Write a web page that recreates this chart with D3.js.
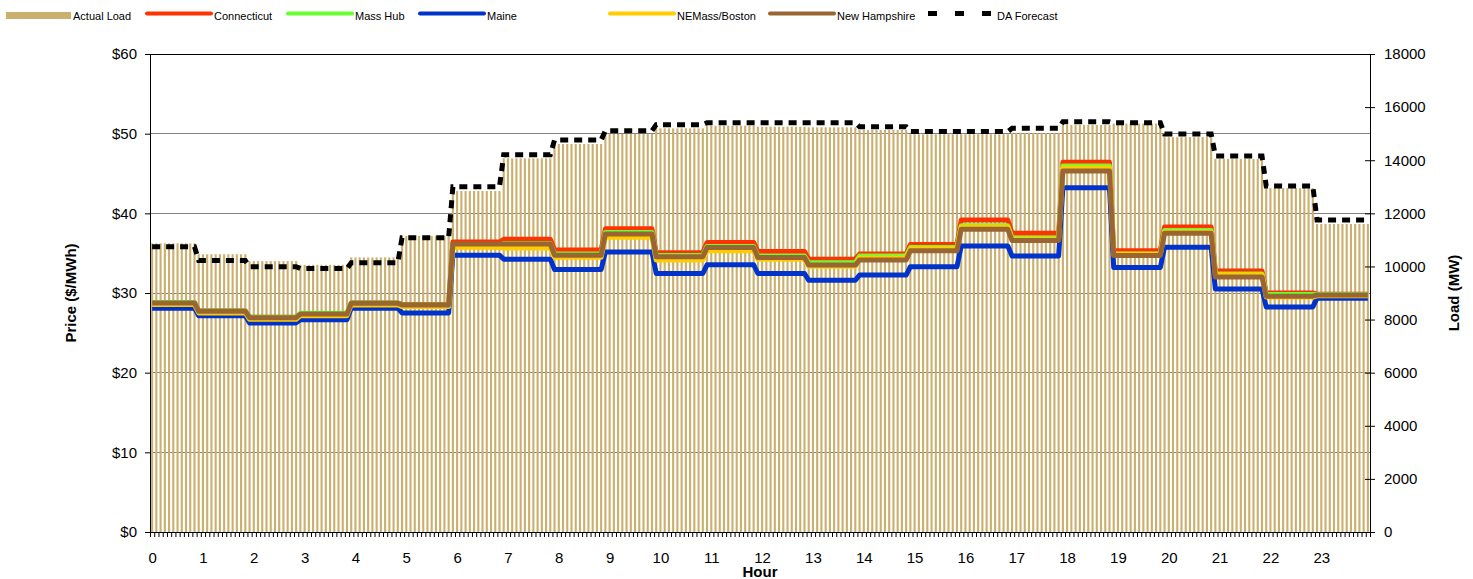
<!DOCTYPE html>
<html>
<head>
<meta charset="utf-8">
<script src="https://cdn.jsdelivr.net/npm/d3@7"></script>
<style>
  body { margin: 0; background: #fff; }
  text { font-family: "Liberation Sans", Arial, sans-serif; }
</style>
</head>
<body>
<svg id="chart" width="1473" height="579"></svg>
<script>
// hourly values (hour 0 .. 23)
const hours = d3.range(24);
const actualLoad = [10870, 10460, 10200, 10060, 10340, 11150, 12840, 14070, 14610, 14990, 15200, 15300, 15260, 15240, 15140, 14980, 14980, 15030, 15330, 15380, 14870, 14050, 12950, 11600];
const daForecast = [10740, 10220, 9990, 9920, 10140, 11080, 13000, 14210, 14760, 15110, 15340, 15410, 15410, 15410, 15260, 15080, 15080, 15200, 15450, 15410, 14990, 14160, 13030, 11750];
const connecticut = [28.8, 27.75, 26.95, 27.4, 28.75, 28.55, 36.4, 36.75, 35.4, 38.05, 35.05, 36.35, 35.2, 34.25, 34.9, 36.1, 39.15, 37.5, 46.4, 35.3, 38.3, 32.75, 30.0, 29.85];
const massHub = [28.8, 27.75, 26.95, 27.45, 28.75, 28.5, 36.0, 36.2, 34.9, 37.6, 34.7, 35.85, 34.65, 33.8, 34.65, 35.7, 38.45, 36.9, 45.95, 34.9, 37.85, 32.4, 29.8, 29.8];
const maine = [28.1, 27.15, 26.25, 26.65, 28.1, 27.5, 34.75, 34.25, 32.95, 35.15, 32.45, 33.55, 32.45, 31.6, 32.25, 33.3, 35.9, 34.65, 43.2, 33.2, 35.75, 30.5, 28.25, 29.35];
const neMassBoston = [28.55, 27.5, 26.7, 27.15, 28.5, 28.3, 35.75, 35.65, 34.5, 37.0, 34.15, 35.3, 34.25, 33.35, 34.4, 35.55, 38.3, 36.75, 45.7, 34.85, 37.65, 32.3, 29.5, 29.65];
const newHampshire = [28.75, 27.7, 26.9, 27.35, 28.7, 28.5, 36.15, 36.15, 34.75, 37.4, 34.55, 35.7, 34.45, 33.5, 34.15, 35.3, 38.0, 36.6, 45.3, 34.7, 37.5, 32.0, 29.6, 29.75];
const priceTicks = [0, 10, 20, 30, 40, 50, 60];
const loadTicks = [0, 2000, 4000, 6000, 8000, 10000, 12000, 14000, 16000, 18000];

const intervalsPerHour = 12;
const nIntervals = 24 * intervalsPerHour;

const series = [
  { name: "Connecticut", values: connecticut, color: "#ff3300" },
  { name: "Mass Hub", values: massHub, color: "#66ff33" },
  { name: "Maine", values: maine, color: "#0033cc" },
  { name: "NEMass/Boston", values: neMassBoston, color: "#ffcc00" },
  { name: "New Hampshire", values: newHampshire, color: "#996633" }
];

// each 5-minute slot takes the value of its hour
const slotHour = i => Math.min(23, Math.floor((i + 1) / intervalsPerHour));
const expand = vals => d3.range(nIntervals).map(i => ({ i, v: vals[slotHour(i)] }));

const plotL = 150, plotR = 1370, plotT = 54, plotB = 532;
const svg = d3.select("#chart");

const x = d3.scaleBand().domain(d3.range(nIntervals)).range([plotL, plotR])
  .paddingInner(0.5).paddingOuter(0.25);
const xLin = d3.scaleLinear().domain([0, nIntervals]).range([plotL, plotR]);
const yPrice = d3.scaleLinear().domain([0, 60]).range([plotB, plotT]);
const yLoad = d3.scaleLinear().domain([0, 18000]).range([plotB, plotT]);
const cx = i => x(i) + x.bandwidth() / 2;

// gridlines
svg.append("g").selectAll("line")
  .data(priceTicks.filter(d => d > 0))
  .join("line")
    .attr("x1", plotL).attr("x2", plotR)
    .attr("y1", d => yPrice(d)).attr("y2", d => yPrice(d))
    .attr("stroke", d => d === 60 ? "#000" : "#808080")
    .attr("stroke-width", 1)
    .attr("shape-rendering", "crispEdges");

// actual load bars
svg.append("g").selectAll("rect")
  .data(expand(actualLoad))
  .join("rect")
    .attr("x", d => x(d.i))
    .attr("width", x.bandwidth())
    .attr("y", d => yLoad(d.v))
    .attr("height", d => plotB - yLoad(d.v))
    .attr("fill", "#cbaf6f");

// price lines
const priceLine = d3.line().x(d => cx(d.i)).y(d => yPrice(d.v));
svg.append("g")
    .attr("fill", "none")
    .attr("stroke-width", 5)
    .attr("stroke-linejoin", "round")
  .selectAll("path")
  .data(series)
  .join("path")
    .attr("stroke", d => d.color)
    .attr("d", d => priceLine(expand(d.values)));

// DA forecast
const loadLine = d3.line().x(d => cx(d.i)).y(d => yLoad(d.v));
svg.append("path")
  .attr("fill", "none")
  .attr("stroke", "#000")
  .attr("stroke-width", 5)
  .attr("stroke-dasharray", "8,6")
  .attr("d", loadLine(expand(daForecast)));

// axes
const fs = "15px";
svg.append("g")
  .attr("transform", `translate(${plotL},0)`)
  .call(d3.axisLeft(yPrice).tickValues(priceTicks).tickSize(5).tickPadding(8).tickFormat(d => "$" + d));
const yAxisR = svg.append("g")
  .attr("transform", `translate(${plotR},0)`)
  .call(d3.axisRight(yLoad).tickValues(loadTicks).tickSize(5).tickPadding(9).tickFormat(d => d));
yAxisR.selectAll(".tick line").attr("x1", -5);

const xTicks = svg.append("g")
  .attr("transform", `translate(0,${plotB})`)
  .call(d3.axisBottom(xLin).tickValues(d3.range(nIntervals + 1)).tickSize(5).tickFormat(""));
xTicks.select(".domain").attr("d", `M${plotL - 5},0.5H${plotR}`);

svg.append("g")
  .attr("transform", `translate(0,${plotB})`)
  .call(d3.axisBottom(xLin)
    .tickValues(hours.map(h => h * intervalsPerHour + 0.5))
    .tickSize(0).tickPadding(20)
    .tickFormat(d => Math.floor(d / intervalsPerHour)))
  .call(g => g.select(".domain").remove());

svg.selectAll(".tick text").attr("font-size", fs).attr("fill", "#000")
  .attr("font-family", "Liberation Sans, Arial, sans-serif");
svg.selectAll(".domain, .tick line").attr("stroke", "#000");

// axis titles
svg.append("text")
  .attr("transform", `translate(76,${(plotT + plotB) / 2}) rotate(-90)`)
  .attr("text-anchor", "middle")
  .attr("font-size", "15px").attr("font-weight", "bold")
  .text("Price ($/MWh)");
svg.append("text")
  .attr("transform", `translate(1459,${(plotT + plotB) / 2}) rotate(-90)`)
  .attr("text-anchor", "middle")
  .attr("font-size", "15px").attr("font-weight", "bold")
  .text("Load (MW)");
svg.append("text")
  .attr("x", 760).attr("y", 577)
  .attr("text-anchor", "middle")
  .attr("font-size", "15px").attr("font-weight", "bold")
  .text("Hour");

// legend
const legendItems = [
  { name: "Actual Load", kind: "bar", color: "#cbaf6f", x: 6 },
  { name: "Connecticut", kind: "line", color: "#ff3300", x: 145 },
  { name: "Mass Hub", kind: "line", color: "#66ff33", x: 286 },
  { name: "Maine", kind: "line", color: "#0033cc", x: 418 },
  { name: "NEMass/Boston", kind: "line", color: "#ffcc00", x: 608 },
  { name: "New Hampshire", kind: "line", color: "#996633", x: 768 },
  { name: "DA Forecast", kind: "dash", color: "#000", x: 928 }
];
const lg = svg.append("g").selectAll("g").data(legendItems).join("g")
  .attr("transform", d => `translate(${d.x},0)`);
lg.filter(d => d.kind === "bar").append("rect")
  .attr("x", 0).attr("y", 12).attr("width", 65).attr("height", 7)
  .attr("fill", d => d.color);
lg.filter(d => d.kind === "line").append("line")
  .attr("x1", 2).attr("x2", 66).attr("y1", 13.5).attr("y2", 13.5)
  .attr("stroke", d => d.color).attr("stroke-width", 4).attr("stroke-linecap", "round");
lg.filter(d => d.kind === "dash").append("line")
  .attr("x1", 0).attr("x2", 63).attr("y1", 13.5).attr("y2", 13.5)
  .attr("stroke", "#000").attr("stroke-width", 5).attr("stroke-dasharray", "9,18");
lg.append("text")
  .attr("x", d => d.kind === "bar" ? 67 : 69)
  .attr("y", 19.5)
  .attr("font-size", "11px")
  .attr("fill", "#000")
  .text(d => d.name);
</script>
</body>
</html>
